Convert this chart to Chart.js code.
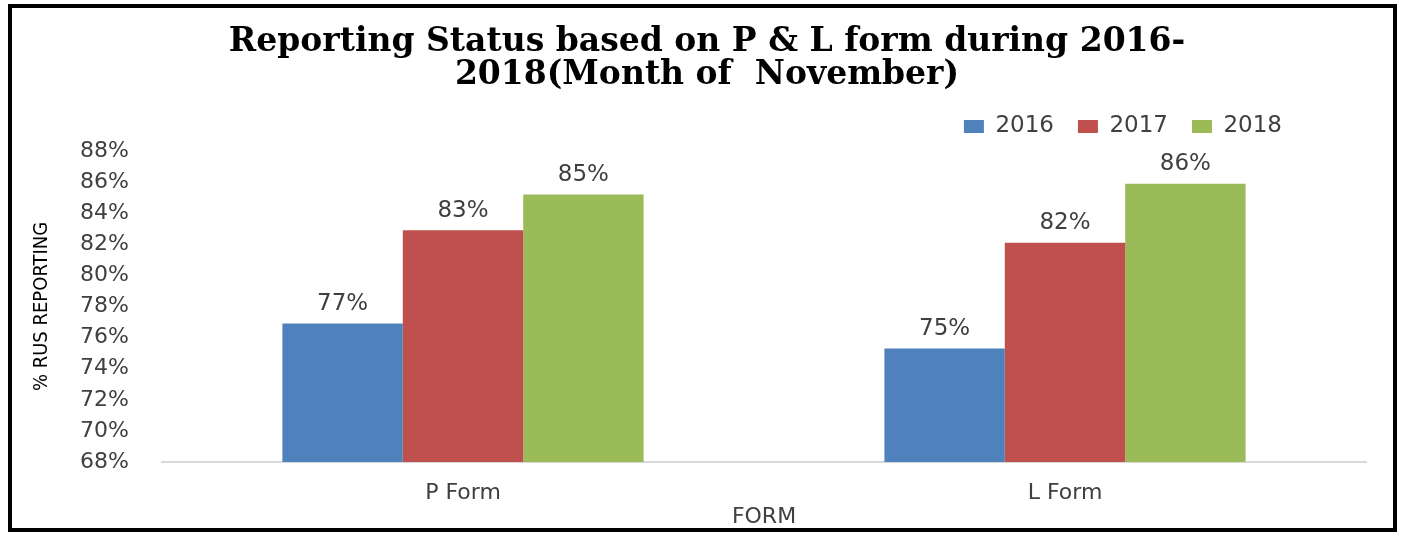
<!DOCTYPE html>
<html>
<head>
<meta charset="utf-8">
<script src="https://cdn.jsdelivr.net/npm/chart.js@4.4.0/dist/chart.umd.min.js"></script>
<style>
  html, body { margin: 0; padding: 0; background: #fff; }
  #frame {
    position: absolute; left: 8px; top: 4px;
    width: 1381px; height: 520px;
    border: 4px solid #000;
  }
  #chart { display: block; }
</style>
</head>
<body>
<div id="frame"><canvas id="chart" width="1381" height="520"></canvas></div>
<script>
var categories = ['P Form', 'L Form'];
var years = ['2016', '2017', '2018'];
var values2016 = [76.9, 75.3];
var values2017 = [82.9, 82.1];
var values2018 = [85.2, 85.9];
var yTicks = [68, 70, 72, 74, 76, 78, 80, 82, 84, 86, 88];
var colors = ['#4F81BD', '#C0504D', '#9BBB59'];

var tickFont = { family: 'DejaVu Sans', size: 22, lineHeight: 1 };

// labels above every bar
var barLabels = {
  id: 'barLabels',
  afterDatasetsDraw: function (chart) {
    var ctx = chart.ctx;
    ctx.save();
    ctx.font = '23px "DejaVu Sans"';
    ctx.fillStyle = '#404040';
    ctx.textAlign = 'center';
    ctx.textBaseline = 'bottom';
    chart.data.datasets.forEach(function (ds, i) {
      chart.getDatasetMeta(i).data.forEach(function (bar, j) {
        ctx.fillText(Math.round(ds.data[j]) + '%', bar.x, bar.y - 8);
      });
    });
    ctx.restore();
  }
};

// nudge legend left and title right, like the original
var boxShift = {
  id: 'boxShift',
  afterLayout: function (chart) {
    chart.legend.right -= 60;
    chart.legend.top -= 3;
    chart.titleBlock.left += 36;
  }
};

new Chart(document.getElementById('chart'), {
  type: 'bar',
  data: {
    labels: categories,
    datasets: [
      { label: years[0], data: values2016, backgroundColor: colors[0] },
      { label: years[1], data: values2017, backgroundColor: colors[1] },
      { label: years[2], data: values2018, backgroundColor: colors[2] }
    ]
  },
  options: {
    responsive: false,
    animation: false,
    layout: { padding: { left: 0, right: 27, top: 14, bottom: 0 } },
    plugins: {
      title: {
        display: true,
        text: ['Reporting Status based on P & L form during 2016-', '2018(Month of  November)'],
        font: { family: 'DejaVu Serif', size: 33, weight: 'bold', lineHeight: 1.0 },
        color: '#000',
        padding: { top: 4, bottom: 2 }
      },
      legend: {
        position: 'top',
        align: 'end',
        labels: {
          font: { family: 'DejaVu Sans', size: 23 },
          color: '#404040',
          boxWidth: 20,
          boxHeight: 13,
          padding: 24
        }
      },
      tooltip: { enabled: false }
    },
    datasets: { bar: { barPercentage: 1, categoryPercentage: 0.6 } },
    scales: {
      x: {
        afterFit: function (scale) { scale.height = 66; },
        grid: { display: false, drawTicks: false },
        border: { display: true, color: '#d9d9d9', width: 2 },
        ticks: { font: tickFont, color: '#404040', padding: 20 },
        title: { display: true, text: 'FORM', font: tickFont, color: '#404040', padding: { top: 0, bottom: 0 } }
      },
      y: {
        min: yTicks[0],
        max: yTicks[yTicks.length - 1],
        afterBuildTicks: function (scale) {
          scale.ticks = yTicks.map(function (v) { return { value: v }; });
        },
        afterFit: function (scale) { scale.width = 150; },
        grid: { display: false, drawTicks: false },
        border: { display: false },
        ticks: {
          font: tickFont, color: '#404040', padding: 33,
          callback: function (v) { return v + '%'; }
        },
        title: {
          display: true, text: '% RUS REPORTING',
          font: { family: 'DejaVu Sans Condensed', size: 20 }, color: '#000',
          padding: { top: 18, bottom: 0 }
        }
      }
    }
  },
  plugins: [barLabels, boxShift]
});
</script>
</body>
</html>
